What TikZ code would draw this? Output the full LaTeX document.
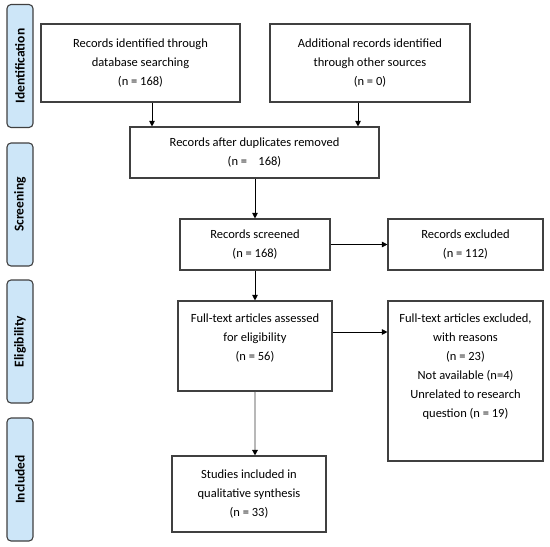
\documentclass[tikz,border=0pt]{standalone}
\usepackage{fontspec}
\setmainfont{Carlito}
\usetikzlibrary{positioning,arrows.meta}
\definecolor{tabblue}{HTML}{CDE6F8}
\definecolor{edge}{HTML}{404040}
\begin{document}
\begin{tikzpicture}[x=1pt,y=-1pt,
		box/.style={draw=edge,line width=1.1pt,inner sep=0pt,align=center,font=\fontsize{12.5}{19}\selectfont},
		txt/.style={inner sep=0pt,align=center,font=\fontsize{12.5}{19}\selectfont},
		tab/.style={draw=edge,line width=1.1pt,fill=tabblue,rounded corners=4pt,minimum width=26pt,minimum height=123pt,inner sep=0pt},
		tabtxt/.style={rotate=90,font=\fontsize{13.5}{15}\selectfont\bfseries},
		arr/.style={-{Triangle[width=5.5pt,length=5.5pt]},line width=.8pt}]
		\useasboundingbox (0,0) rectangle (550,547);
		%%%%%%%%%%%%%%%%%%%%%%%%%%%%%%%%%
		\node[tab] (tid) at (20,66){};
		\node[tabtxt] at (tid){Identification};
		\node[tab] (tsc) at (20,204.5){};
		\node[tabtxt] at (tsc){Screening};
		\node[tab] (tel) at (20,341.5){};
		\node[tabtxt] at (tel){Eligibility};
		\node[tab] (tin) at (20,479.5){};
		\node[tabtxt] at (tin){Included};
		%%%%%%%%%%%%%%%%%%%%%%%%%%%%%%%%%
		\node[box,minimum width=199pt,minimum height=78pt] (ident) at (140.5,63){Records identified through\\database searching\\(n = 168)};
		\node[box,minimum width=200pt,minimum height=78pt] (other) at (370,63){Additional records identified\\through other sources\\(n = 0)};
		\node[box,minimum width=249pt,minimum height=51pt] (dupl) at (254.5,152.5){Records after duplicates removed\\(n =\ \ \ \ 168)};
		\node[box,minimum width=150pt,minimum height=51pt] (scrn) at (255,244.5){Records screened\\(n = 168)};
		\node[box,minimum width=155pt,minimum height=51pt] (excl) at (465.5,244.5){Records excluded\\(n = 112)};
		\node[box,minimum width=154pt,minimum height=90pt] (full) at (255,346){};
		\node[txt,below=13pt of full.north]{Full-text articles assessed\\for eligibility\\(n = 56)};
		\node[box,minimum width=155pt,minimum height=160pt] (fexcl) at (465.5,381){};
		\node[txt,below=13pt of fexcl.north]{Full-text articles excluded,\\with reasons\\(n = 23)\\Not available (n=4)\\Unrelated to research\\question (n = 19)};
		\node[box,minimum width=154pt,minimum height=76pt] (incl) at (249,494){Studies included in\\qualitative synthesis\\(n = 33)};
		%%%%%%%%%%%%%%%%%%%%%%%%%%%%%%%%%
		\coordinate (c1) at (152,0);
		\coordinate (c2) at (358,0);
		\coordinate (c3) at (0,332);
		\draw[arr] (ident.south -| c1) -- (dupl.north -| c1);
		\draw[arr] (other.south -| c2) -- (dupl.north -| c2);
		\draw[arr] (dupl.south -| scrn.north) -- (scrn.north);
		\draw[arr] (scrn.east) -- (excl.west);
		\draw[arr] (scrn.south) -- (full.north);
		\draw[arr] (full.east |- c3) -- (fexcl.west |- c3);
		\draw[-{Triangle[width=5.5pt,length=5.5pt,color=black]},line width=1.3pt,color=black!28] (full.south) -- (incl.north -| full.south);
	\end{tikzpicture}
\end{document}
